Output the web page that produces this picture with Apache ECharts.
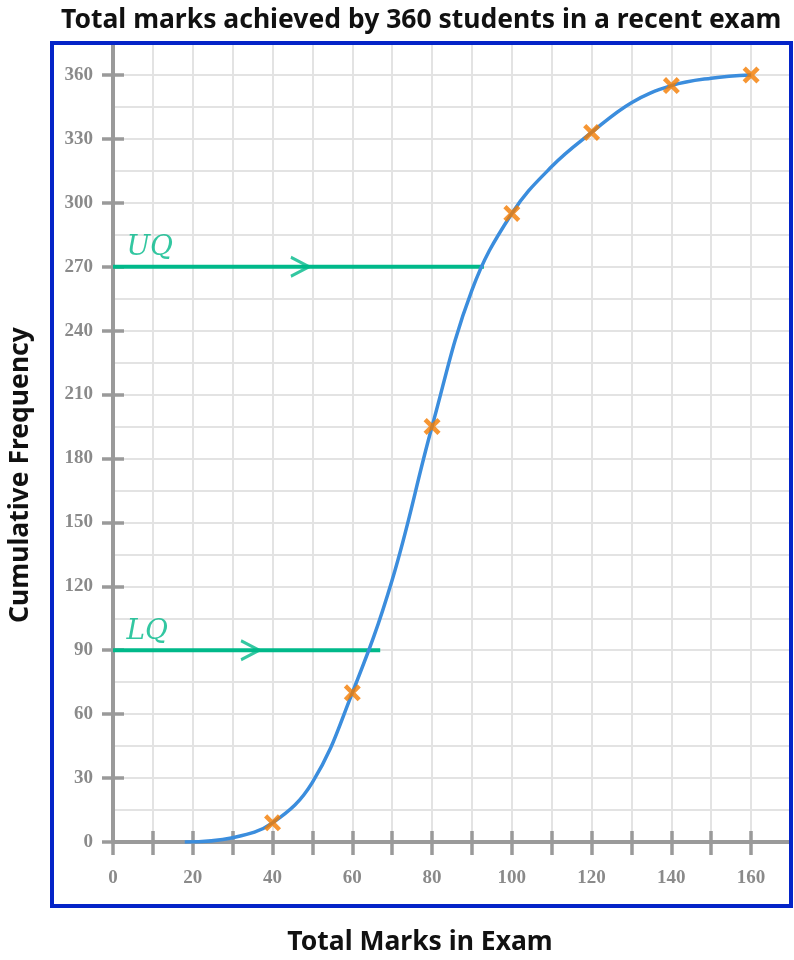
<!DOCTYPE html>
<html>
<head>
<meta charset="utf-8">
<script src="https://cdn.jsdelivr.net/npm/echarts@6/dist/echarts.min.js"></script>
<style>
  html, body { margin: 0; padding: 0; background: #fff; }
  #main { width: 794px; height: 960px; }
</style>
</head>
<body>
<div id="main"></div>
<script>
// data
const marks = [40, 60, 80, 100, 120, 140, 160]          // upper class bounds
const cumFreq = [9, 70, 195, 295, 333, 355, 360]        // plotted crosses
// the drawn curve, read off every 10 marks
const curveMarks = [18, 30, 40, 50, 60, 70, 80, 90, 100, 110, 120, 130, 140, 150, 160]
const curveFreq = [0, 2, 9, 28, 70, 123, 195, 259, 295, 317, 333, 347, 355, 358.5, 360]

const quartileNames = ['UQ', 'LQ']
const quartileCF = [270, 90]      // 3/4 and 1/4 of 360
const quartileMarks = [93, 67]    // where the reading line meets the curve
const arrowTips = [50, 37.5]      // position of the arrow head on each line

const xTicks = [0, 10, 20, 30, 40, 50, 60, 70, 80, 90, 100, 110, 120, 130, 140, 150, 160]
const xLabels = [0, 20, 40, 60, 80, 100, 120, 140, 160]
const yLabels = [0, 30, 60, 90, 120, 150, 180, 210, 240, 270, 300, 330, 360]

const GRAY = '#9a9a9a'
const GREEN = '#00b98a'
const crossPath = 'path://M0,3 L3,0 L8,5 L13,0 L16,3 L11,8 L16,13 L13,16 L8,11 L3,16 L0,13 L5,8 Z'
const chevronPath = 'path://M1,0 L22,11 L1,22 L0,19 L15.3,11 L0,3 Z'

const tickFont = { fontFamily: 'Liberation Serif', fontWeight: 'bold', fontSize: 19, color: '#8a8a8a' }
const nameFont = { fontFamily: 'Noto Sans', fontWeight: 'bold', fontSize: 26.5 }

let chart = echarts.init(document.getElementById('main'), null, { renderer: 'canvas' })

// build the pairs for the series
let curveData = curveMarks.map((m, i) => [m, curveFreq[i]])
let crossData = marks.map((m, i) => [m, cumFreq[i]])

let series = []

// quartile reading lines (drawn under the curve)
quartileNames.forEach((q, i) => {
  series.push({
    type: 'line',
    name: q + ' line',
    data: [[0, quartileCF[i]], [quartileMarks[i], quartileCF[i]]],
    showSymbol: false,
    lineStyle: { color: GREEN, width: 4 },
    silent: true,
    z: 3
  })
})

// arrow heads
series.push({
  type: 'scatter',
  name: 'arrows',
  data: arrowTips.map((a, i) => [a, quartileCF[i]]),
  symbol: chevronPath,
  symbolSize: [22, 22],
  symbolOffset: [-11, 0],
  itemStyle: { color: GREEN },
  silent: true,
  z: 4
})

// UQ / LQ labels
series.push({
  type: 'scatter',
  name: 'qlabels',
  data: quartileNames.map((q, i) => ({ value: [0, quartileCF[i]], name: q })),
  symbolSize: 1,
  itemStyle: { color: 'transparent' },
  label: {
    show: true,
    position: 'right',
    offset: [8, -19],
    formatter: p => p.name,
    fontFamily: 'DejaVu Serif',
    fontStyle: 'italic',
    fontSize: 28,
    color: GREEN
  },
  silent: true,
  z: 4
})

// ogive curve
series.push({
  type: 'line',
  name: 'curve',
  data: curveData,
  smooth: 0.4,
  showSymbol: false,
  lineStyle: { color: '#3b8ddd', width: 3.5 },
  silent: true,
  z: 5
})

// plotted points
series.push({
  type: 'scatter',
  name: 'points',
  data: crossData,
  symbol: crossPath,
  symbolSize: 17,
  itemStyle: { color: '#f47c00' },
  silent: true,
  z: 6
})

let option = {
  animation: false,
  backgroundColor: '#fff',
  title: {
    text: 'Total marks achieved by 360 students in a recent exam',
    left: 56,
    top: 2,
    textStyle: Object.assign({ color: '#111' }, nameFont)
  },
  grid: { left: 113, right: 3, top: 43, bottom: 118 },
  xAxis: [
    {
      type: 'value', min: 0, max: 170, interval: 10,
      axisLine: { show: true, onZero: false, lineStyle: { color: GRAY, width: 4 } },
      axisTick: { show: true, length: 13, lineStyle: { color: GRAY, width: 3.5 }, customValues: xTicks },
      axisLabel: Object.assign({ margin: 27, customValues: xLabels }, tickFont),
      splitLine: { show: true, lineStyle: { color: '#e3e3e3', width: 2 } }
    },
    {
      type: 'value', min: 0, max: 170, interval: 10, position: 'bottom',
      axisLine: { show: false },
      axisTick: { show: true, inside: true, length: 11, lineStyle: { color: GRAY, width: 3.5 }, customValues: xTicks },
      axisLabel: { show: false },
      splitLine: { show: false }
    }
  ],
  yAxis: [
    {
      // 15-step grid lines only
      type: 'value', min: 0, max: 375, interval: 15,
      axisLine: { show: false }, axisTick: { show: false }, axisLabel: { show: false },
      splitLine: { show: true, lineStyle: { color: '#e3e3e3', width: 2 } }
    },
    {
      type: 'value', min: 0, max: 375, interval: 15, position: 'left',
      axisLine: { show: true, onZero: false, lineStyle: { color: GRAY, width: 4 } },
      axisTick: { show: true, length: 11, lineStyle: { color: GRAY, width: 3.5 }, customValues: yLabels },
      axisLabel: Object.assign({ margin: 20, customValues: yLabels }, tickFont),
      splitLine: { show: false }
    },
    {
      type: 'value', min: 0, max: 375, interval: 15, position: 'left',
      axisLine: { show: false },
      axisTick: { show: true, inside: true, length: 11, lineStyle: { color: GRAY, width: 3.5 }, customValues: yLabels },
      axisLabel: { show: false },
      splitLine: { show: false }
    }
  ],
  graphic: [
    {
      type: 'rect', z: 100, silent: true,
      shape: { x: 52, y: 43, width: 739, height: 863 },
      style: { fill: 'none', stroke: '#0424c8', lineWidth: 4 }
    },
    {
      type: 'text', z: 100, silent: true,
      x: 420, y: 942,
      style: Object.assign({ text: 'Total Marks in Exam', fill: '#111', align: 'center', verticalAlign: 'middle' }, nameFont)
    },
    {
      type: 'text', z: 100, silent: true,
      x: 20, y: 475, rotation: Math.PI / 2,
      style: Object.assign({ text: 'Cumulative Frequency', fill: '#111', align: 'center', verticalAlign: 'middle' }, nameFont)
    }
  ],
  series: series
}

chart.setOption(option)
</script>
</body>
</html>
